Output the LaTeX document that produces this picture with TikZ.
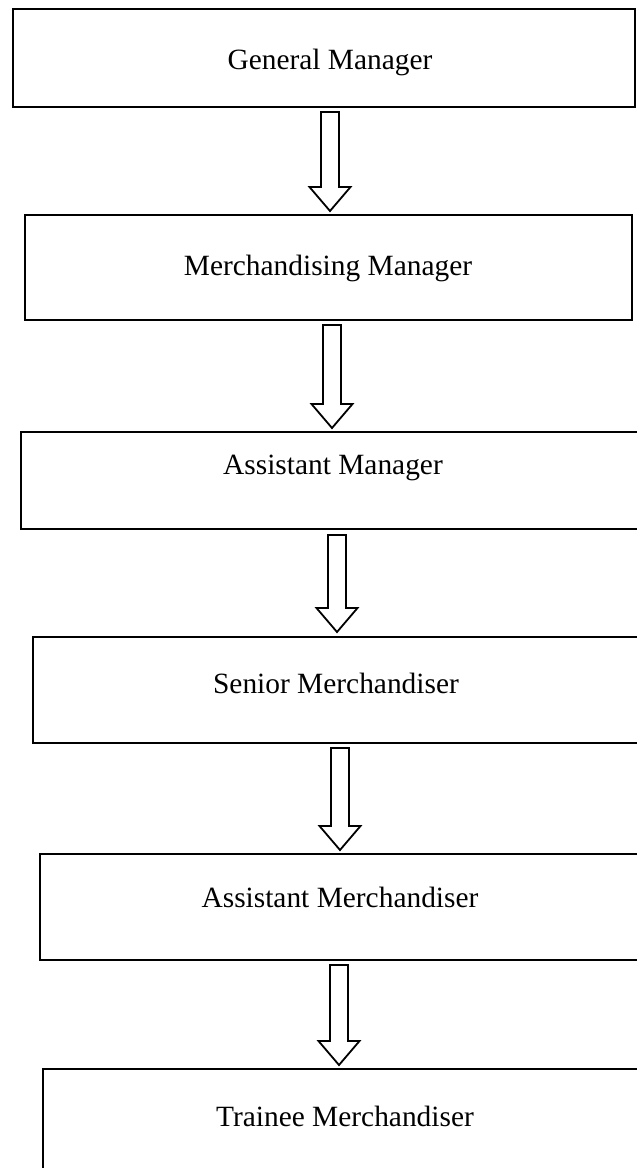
\documentclass[tikz,border=0pt]{standalone}
\usepackage{fontspec}
\setmainfont{Liberation Serif}
\usetikzlibrary{calc}
\begin{document}
\begin{tikzpicture}[x=1pt,y=-1pt,
  box/.style={draw, line width=2pt, rectangle, inner sep=0pt},
  boxtext/.style={font=\fontsize{29.4}{34}\selectfont, inner sep=0pt},
  blockarrow/.style={draw, line width=1.8pt, line join=miter,
    to path={let \p1=(\tikztostart), \p2=(\tikztotarget) in
      (\x1-9pt,\y1) -- (\x1+9pt,\y1) -- (\x1+9pt,\y2+24pt)
      -- (\x1+20.5pt,\y2+24pt) -- (\x2,\y2) -- (\x1-20.5pt,\y2+24pt)
      -- (\x1-9pt,\y2+24pt) -- cycle}}]
  \useasboundingbox (0,0) rectangle (637,1168);
  \clip (0,0) rectangle (637,1168);
  \fill[white] (0,0) rectangle (637,1168);

  % level boxes
  \node[box, minimum width=622pt, minimum height=98pt]  (b1) at (324,58) {};
  \node[box, minimum width=607pt, minimum height=105pt] (b2) at (328.5,267.5) {};
  \node[box, minimum width=639pt, minimum height=97pt]  (b3) at (340.5,480.5) {};
  \node[box, minimum width=627pt, minimum height=106pt] (b4) at (346.5,690) {};
  \node[box, minimum width=620pt, minimum height=106pt] (b5) at (350,907) {};
  \node[box, minimum width=617pt, minimum height=131pt] (b6) at (351.5,1134.5) {};

  % titles
  \node[boxtext] (t1) at (330,62)  {General Manager};
  \node[boxtext] (t2) at (328,268) {Merchandising Manager};
  \node[boxtext] (t3) at (333,468) {Assistant Manager};
  \node[boxtext] (t4) at (336,683) {Senior Merchandiser};
  \node[boxtext] (t5) at (340,897) {Assistant Merchandiser};
  \node[boxtext] (t6) at (345,1116) {Trainee Merchandiser};

  % hollow block arrows between levels
  \coordinate (a1s) at (330,112);  \coordinate (a1e) at (330,211);
  \coordinate (a2s) at (332,325);  \coordinate (a2e) at (332,428);
  \coordinate (a3s) at (337,535);  \coordinate (a3e) at (337,632);
  \coordinate (a4s) at (340,748);  \coordinate (a4e) at (340,850);
  \coordinate (a5s) at (339,965);  \coordinate (a5e) at (339,1065);
  \draw[blockarrow] (a1s) to (a1e);
  \draw[blockarrow] (a2s) to (a2e);
  \draw[blockarrow] (a3s) to (a3e);
  \draw[blockarrow] (a4s) to (a4e);
  \draw[blockarrow] (a5s) to (a5e);
\end{tikzpicture}
\end{document}
